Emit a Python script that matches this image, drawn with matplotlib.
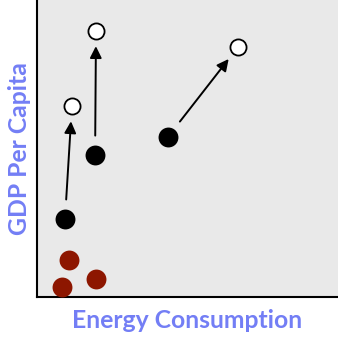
import matplotlib
matplotlib.use("Agg")
import matplotlib.pyplot as plt

# Data (abstract units, 0-10 both axes)
red_x = [0.83, 1.06, 1.96]
red_y = [0.34, 1.25, 0.61]
black_x = [0.93, 1.93, 4.35]
black_y = [2.63, 4.78, 5.39]
open_x = [1.16, 1.96, 6.68]
open_y = [6.43, 8.96, 8.42]

label_color = "#737ef5"

fig = plt.figure(figsize=(3.38, 3.38), dpi=100)
ax = fig.add_axes([37/338, 41/338, 301/338, 297/338])
ax.set_facecolor("#e9e9e9")
ax.set_xlim(0, 10)
ax.set_ylim(0, 10)
ax.set_xticks([])
ax.set_yticks([])
for s in ["top", "right"]:
    ax.spines[s].set_visible(False)
for s in ["left", "bottom"]:
    ax.spines[s].set_linewidth(1.5)
    ax.spines[s].set_color("black")

ax.scatter(red_x, red_y, s=205, color="#8d1600", zorder=3, linewidths=0)
ax.scatter(black_x, black_y, s=205, color="black", zorder=3, linewidths=0)
ax.scatter(open_x, open_y, s=135, facecolor="white", edgecolor="black", linewidths=1.3, zorder=3)

for bx, by, ox, oy in zip(black_x, black_y, open_x, open_y):
    ax.annotate("", xy=(ox, oy), xytext=(bx, by),
                arrowprops=dict(arrowstyle="-|>,head_length=0.7,head_width=0.35",
                                color="black", lw=1.4,
                                shrinkA=14, shrinkB=11))

ax.set_xlabel("Energy Consumption", fontsize=17.8, fontweight="bold",
              color=label_color, family="Lato", labelpad=8.5)
ax.set_ylabel("GDP Per Capita", fontsize=17.8, fontweight="bold",
              color=label_color, family="Lato", labelpad=4.5)

fig.savefig("out.png", dpi=100)
